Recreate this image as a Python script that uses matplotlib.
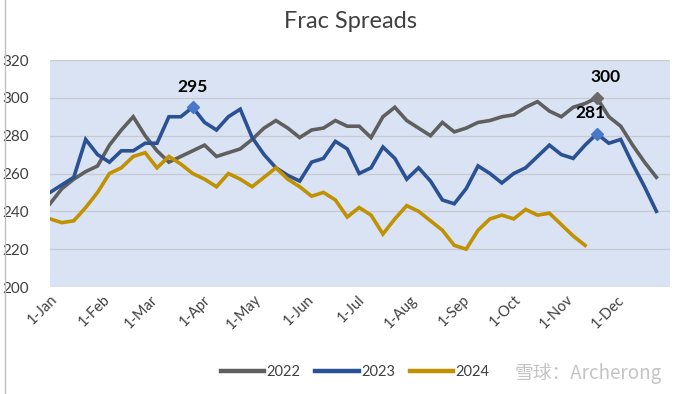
import matplotlib
matplotlib.use("Agg")
import matplotlib.pyplot as plt
from matplotlib.lines import Line2D
import numpy as np
import datetime as dt

plt.rcParams['font.family'] = ['Lato', 'Noto Sans CJK SC', 'DejaVu Sans']

# ---- data (weekly, starting 1-Jan) ----
s2022 = [244, 252, 257, 261, 264, 275, 283, 290, 280, 272, 266, 269, 272, 275, 269, 271,
         273, 278, 284, 288, 284, 279, 283, 284, 288, 285, 285, 279, 290, 295, 288, 284,
         280, 287, 282, 284, 287, 288, 290, 291, 295, 298, 293, 290, 295, 297, 300, 290,
         285, 275, 266, 258]
s2023 = [250, 254, 258, 278, 270, 266, 272, 272, 276, 276, 290, 290, 295, 287, 283, 290,
         294, 279, 270, 263, 259, 256, 266, 268, 277, 273, 260, 263, 274, 268, 257, 263,
         256, 246, 244, 252, 264, 260, 255, 260, 263, 269, 275, 270, 268, 275, 281, 276,
         278, 265, 253, 240]
s2024 = [236, 234, 235, 242, 250, 260, 263, 269, 271, 263, 269, 265, 260, 257, 253, 260,
         257, 253, 258, 263, 257, 253, 248, 250, 246, 237, 242, 238, 228, 236, 243, 240,
         235, 230, 222, 220, 230, 236, 238, 236, 241, 238, 239, 233, 227, 222]
month_labels = ["1-Jan", "1-Feb", "1-Mar", "1-Apr", "1-May", "1-Jun",
                "1-Jul", "1-Aug", "1-Sep", "1-Oct", "1-Nov", "1-Dec"]
series_names = ["2022", "2023", "2024"]
yticks = [200, 220, 240, 260, 280, 300, 320]
# labelled points: (series index, week index)
labelled = [(1, 12), (0, 46), (1, 46)]

colors = ["#5f5f5f", "#2a5193", "#c09100"]
marker_colors = ["#6a6a6a", "#4a78c8", "#c09100"]

days = lambda n: np.arange(n) * 7
month_days = [(dt.date(2023, m, 1) - dt.date(2023, 1, 1)).days for m in range(1, 13)]

fig = plt.figure(figsize=(6.79, 3.94), dpi=100)
ax = fig.add_axes([50/679, 1-287/394, 620/679, 227/394])
ax.set_facecolor("#dae3f3")

all_series = [s2022, s2023, s2024]
for s, c, name in zip(all_series, colors, series_names):
    ax.plot(days(len(s)), s, color=c, lw=2.6, label=name, solid_joinstyle='miter', zorder=3)

offsets = {(1, 12): (0, 9), (0, 46): (6, 9), (1, 46): (-5, 9)}
for si, wi in labelled:
    val = all_series[si][wi]
    ax.plot(wi*7, val, marker='D', ms=6.5, color=marker_colors[si], zorder=4)
    ax.annotate(str(val), (wi*7, val), xytext=offsets[(si, wi)], textcoords='offset points',
                ha='center', va='bottom', fontsize=12.5, fontweight='bold', color='black')

ax.set_xlim(0, 365)
ax.set_ylim(200, 320)
ax.set_yticks(yticks)
ax.set_xticks(month_days)
ax.set_xticklabels(month_labels, rotation=45, ha='right', rotation_mode='anchor', fontsize=10.5, color='#404040')
ax.tick_params(axis='y', labelsize=11, labelcolor='#404040', length=0, pad=15)
ax.tick_params(axis='x', length=0, pad=4)
ax.grid(axis='y', color='#c6cbd3', lw=0.9, zorder=1)
for sp in ax.spines.values():
    sp.set_visible(False)

fig.text(0.516, 1-22/394, "Frac Spreads", ha='center', va='center', fontsize=17, color='#404040')

handles = [Line2D([0], [0], color=c, lw=3.2) for c in colors]
fig.legend(handles, series_names, loc='center', bbox_to_anchor=(0.523, 1-372/394), ncol=3,
           frameon=False, fontsize=10.5, handlelength=3.0, columnspacing=1.0, handletextpad=0.15,
           labelcolor='#404040')

fig.text(0.975, 1-373/394, "雪球：Archerong", ha='right', va='center', fontsize=13.5,
         color='#c4c4c4', family=['Noto Sans CJK SC', 'DejaVu Sans'])

fig.add_artist(Line2D([5/679, 5/679], [0, 1], color='#bfbfbf', lw=1))

fig.savefig("out.png", dpi=100)
